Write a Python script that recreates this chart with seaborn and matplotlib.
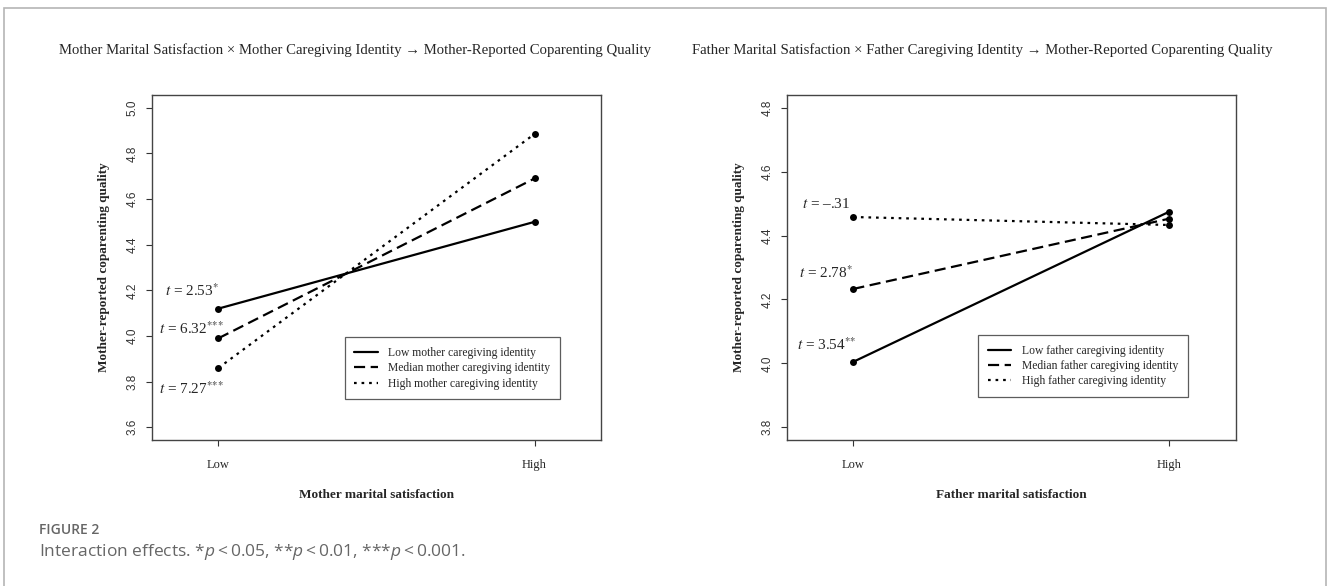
import pandas as pd
import matplotlib.pyplot as plt
import seaborn as sns
from matplotlib.lines import Line2D
from matplotlib.patches import Rectangle

# Data (simple slopes at low / high marital satisfaction)
levels = ["Low", "High"]
identity_levels = ["Low", "Median", "High"]

mother_low_id = [4.12, 4.50]
mother_med_id = [3.99, 4.69]
mother_high_id = [3.86, 4.885]

father_low_id = [4.005, 4.475]
father_med_id = [4.233, 4.453]
father_high_id = [4.458, 4.433]

mother_t = [r"$t$ = 2.53$^{\text{*}}$", r"$t$ = 6.32$^{\text{***}}$", r"$t$ = 7.27$^{\text{***}}$"]
mother_t_y = [4.197, 4.03, 3.77]
father_t = ["$t$ = \u2013.31", r"$t$ = 2.78$^{\text{*}}$", r"$t$ = 3.54$^{\text{**}}$"]
father_t_y = [4.50, 4.283, 4.057]


def to_long(low, med, high):
    rows = []
    for name, vals in zip(identity_levels, [low, med, high]):
        for i, v in enumerate(vals):
            rows.append({"x": i + 1, "value": v, "identity": name})
    return pd.DataFrame(rows)


mother_df = to_long(mother_low_id, mother_med_id, mother_high_id)
father_df = to_long(father_low_id, father_med_id, father_high_id)

sns.set_style("white")
plt.rcParams["font.family"] = ["Liberation Serif", "DejaVu Serif"]
plt.rcParams["mathtext.fontset"] = "custom"
plt.rcParams["mathtext.rm"] = "Open Sans"
plt.rcParams["mathtext.it"] = "Open Sans:italic"
plt.rcParams["mathtext.bf"] = "Open Sans:bold"

dash_map = {"Low": "", "Median": (5, 2.5), "High": (1.2, 2.2)}
black = {k: "black" for k in identity_levels}

fig = plt.figure(figsize=(13.28, 5.86), dpi=100)
ax1 = fig.add_axes([0.1145, 0.249, 0.338, 0.589])
ax2 = fig.add_axes([0.5926, 0.249, 0.338, 0.589])

panels = [
    (ax1, mother_df, (3.6, 5.0), [3.6, 3.8, 4.0, 4.2, 4.4, 4.6, 4.8, 5.0],
     "Mother marital satisfaction", "mother", mother_t, mother_t_y, (0.922, 0.101)),
    (ax2, father_df, (3.8, 4.8), [3.8, 4.0, 4.2, 4.4, 4.6, 4.8],
     "Father marital satisfaction", "father", father_t, father_t_y, (0.906, 0.107)),
]

for ax, df, ylim, yticks, xlab, who, tlabels, ty, anchor in panels:
    sns.lineplot(data=df, x="x", y="value", hue="identity", style="identity",
                 hue_order=identity_levels, style_order=identity_levels,
                 palette=black, dashes=dash_map, markers={k: "o" for k in identity_levels},
                 markersize=5, markeredgewidth=0, linewidth=1.6, legend=False, ax=ax)
    # R-style 4% padding around the data range
    pad = (ylim[1] - ylim[0]) * 0.04
    ax.set_ylim(ylim[0] - pad, ylim[1] + pad)
    ax.set_xlim(0.79, 2.21)
    ax.set_xticks([1, 2])
    ax.set_xticklabels(levels, fontsize=9)
    ax.set_yticks(yticks)
    ax.set_yticklabels([f"{v:.1f}" for v in yticks], rotation=90, va="center",
                       fontsize=8.5, family="Liberation Sans", color="#333333")
    ax.tick_params(axis="both", direction="out", length=4.5, width=0.8, color="#333333",
                   left=True, bottom=True)
    ax.tick_params(axis="y", pad=5)
    ax.tick_params(axis="x", pad=9)
    for s in ax.spines.values():
        s.set_color("#444444")
        s.set_linewidth(1.0)
    ax.set_xlabel(xlab, fontsize=9.5, fontweight="bold", labelpad=13)
    ax.set_ylabel("Mother-reported coparenting quality", fontsize=9.5,
                  fontweight="bold", labelpad=12)
    for lab, yy in zip(tlabels, ty):
        ax.text(0.915, yy, lab, ha="center", va="center", fontsize=11,
                math_fontfamily="stix")
    handles = [Line2D([], [], color="black", lw=1.6, linestyle="-"),
               Line2D([], [], color="black", lw=1.6, dashes=(5, 2.5)),
               Line2D([], [], color="black", lw=1.6, dashes=(1.2, 2.2))]
    names = [f"{lvl} {who} caregiving identity" for lvl in identity_levels]
    leg = ax.legend(handles, names, loc="lower right", bbox_to_anchor=anchor,
                    fontsize=8.35, frameon=True, fancybox=False, handlelength=2.0,
                    borderpad=0.85, labelspacing=0.28, handletextpad=0.9)
    leg.get_frame().set_edgecolor("#333333")
    leg.get_frame().set_linewidth(0.9)

fig.text(355 / 1328, 1 - 50 / 586,
         "Mother Marital Satisfaction \u00d7 Mother Caregiving Identity \u2192 Mother-Reported Coparenting Quality",
         ha="center", va="center", fontsize=10.6)
fig.text(982 / 1328, 1 - 50 / 586,
         "Father Marital Satisfaction \u00d7 Father Caregiving Identity \u2192 Mother-Reported Coparenting Quality",
         ha="center", va="center", fontsize=10.6)

fig.text(39 / 1328, 1 - 530 / 586, "FIGURE 2", ha="left", va="center",
         fontsize=10, family="Open Sans", fontweight="semibold", color="#666666")
fig.text(39 / 1328, 1 - 552 / 586,
         "Interaction effects. *$p$\u2009<\u20090.05, **$p$\u2009<\u20090.01, ***$p$\u2009<\u20090.001.",
         ha="left", va="center", fontsize=12.5, family="Open Sans", color="#666666")

fig.patches.append(Rectangle((4 / 1328, -0.02), 1322 / 1328, 1.02 - 8 / 586,
                             transform=fig.transFigure, fill=False,
                             edgecolor="#b5b5b5", linewidth=1.2))

fig.savefig("out.png", dpi=100, facecolor="white")
